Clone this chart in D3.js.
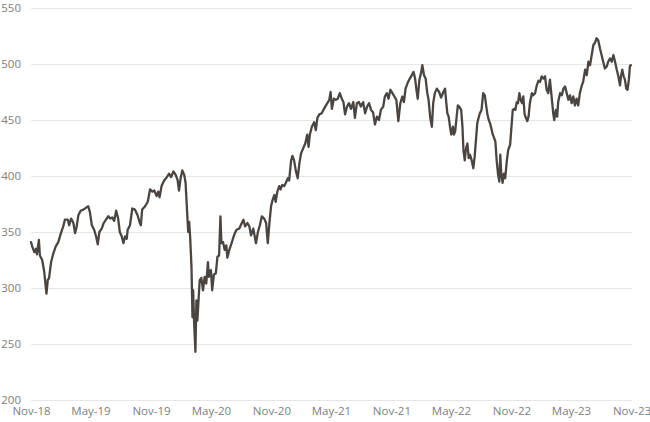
<!DOCTYPE html>
<html>
<head>
<meta charset="utf-8">
<script src="https://cdn.jsdelivr.net/npm/d3@7"></script>
<style>
  html, body { margin: 0; padding: 0; background: #ffffff; }
  svg { display: block; }
  .tick text { font-family: "Open Sans", sans-serif; fill: #808080; }
</style>
</head>
<body>
<svg id="chart" width="650" height="422"></svg>
<script>
// ---- data ----
const startDate = "2018-11-01";
const xTickLabels = ["Nov-18","May-19","Nov-19","May-20","Nov-20","May-21","Nov-21","May-22","Nov-22","May-23","Nov-23"];
const yTicks = [200, 250, 300, 350, 400, 450, 500, 550];

// days after the start date
const dayOffsets = [
  0,4,10,15,18,24,27,34,40,47,51,55,61,68,75,83,91,98,103,112,116,122,129,134,139,144,151,159,169,174,179,185,192,198,203,208,215,221,228,235,241,247,253,259,265,270,276,281,286,291,294,
  301,308,316,324,331,334,338,347,355,362,369,375,382,387,391,397,405,413,420,426,433,440,446,450,455,460,466,470,474,478,481,484,488,491,493,496,500,503,506,510,513,518,523,528,533,538,541,547,551,556,562,567,572,576,579,584,589,594,597,603,610,615,620,
  625,633,641,646,651,658,664,669,676,684,690,696,702,709,715,720,725,730,735,740,744,749,755,759,764,770,775,781,785,791,795,800,805,811,816,821,828,834,840,844,848,854,861,866,871,877,884,891,897,903,907,911,915,921,927,933,939,945,950,955,961,967,973,980,985,991,997,1003,1010,1016,1022,1028,1034,1040,1046,1052,1058,1064,1071,1076,1082,1087,1093,
  1099,1105,1111,1117,1123,1129,1134,1139,1145,1152,1158,1163,1168,1172,1176,1181,1186,1190,1195,1200,1205,1209,1214,1219,1223,1228,1234,1241,1247,1254,1259,1262,1266,1270,1274,1278,1283,1286,1290,1294,1298,1302,1308,1312,1315,1319,1323,1327,1331,1335,1340,1345,1349,1353,1357,1361,1365,1370,1375,1380,1384,1388,1392,1396,1401,1404,1407,1412,1416,1420,1424,1427,1430,1434,1438,1442,1447,1451,1457,1460,
  1465,1469,1473,1477,1481,1485,1489,1493,1497,1501,1505,1509,1513,1517,1523,1527,1533,1538,1543,1548,1553,1558,1563,1568,1573,1578,1583,1588,1591,1596,1600,1603,1609,1614,1619,1624,1629,1634,1639,1644,1649,1654,1659,1664,1669,1675,1679,1685,1690,1695,1700,1705,1710,1715,1720,1725,1730,1735,1740,1745,1751,1755,1761,1766,1771,1776,1781,1786,1791,1794,1798,1802,1806,1810,1814,1818,1821,1824
];

const indexValues = [
  341,337,332,335,330,343,329,325,315,295,307,309,323,331,337,341,349,355,361,361,356,362,358,349,355,365,369,370,372,373,368,356,352,346,339,350,353,358,361,364,362,363,360,369,362,350,346,340,346,344,352,
  356,371,370,365,358,356,370,373,377,388,386,387,382,386,381,391,396,399,402,399,404,401,396,387,398,405,401,394,372,350,359,345,319,274,298,269,243,289,271,292,307,309,298,310,304,323,310,316,298,312,313,328,329,364,340,341,334,338,327,334,340,345,349,
  352,353,358,361,355,358,355,347,353,340,350,356,364,362,358,340,358,373,379,383,377,386,391,388,392,391,394,398,396,414,418,414,405,398,411,420,425,429,437,426,437,444,448,441,452,455,456,460,463,466,468,475,460,469,468,469,474,469,466,455,462,465,460,466,452,465,466,462,466,456,462,465,459,457,446,453,450,459,462,471,474,469,477,
  474,471,468,449,465,471,466,478,483,487,490,493,487,477,469,486,492,499,490,487,474,468,452,444,465,474,478,475,470,475,478,468,456,453,444,437,444,437,440,452,463,462,459,444,423,414,425,429,416,419,414,407,417,432,447,452,456,459,474,472,463,455,450,447,441,437,435,431,414,402,395,419,402,394,402,398,414,423,428,440,
  459,460,459,466,465,474,468,465,471,455,452,449,453,465,474,472,474,481,485,484,489,487,489,477,474,486,471,456,450,459,453,466,474,472,478,480,474,468,472,465,471,463,469,463,474,481,484,495,490,502,499,508,517,519,523,521,514,508,502,496,498,502,505,502,508,502,495,489,481,489,495,489,486,478,477,486,498,499
];

// ---- chart ----
const W = 650, H = 422;
const margin = { left: 31, right: 18.5, top: 8, bottom: 22 };
const svg = d3.select("#chart");

const parseDay = d3.timeParse("%Y-%m-%d");
const parseTick = d3.timeParse("%b-%y");
const t0 = parseDay(startDate);
const data = dayOffsets.map((d, i) => ({ date: d3.timeDay.offset(t0, d), value: indexValues[i] }));
const tickDates = xTickLabels.map(parseTick);

const x = d3.scaleTime()
  .domain([tickDates[0], tickDates[tickDates.length - 1]])
  .range([margin.left, W - margin.right]);
const y = d3.scaleLinear()
  .domain([200, 550])
  .range([H - margin.bottom, margin.top]);

// y axis + gridlines
const yAxis = svg.append("g")
  .attr("transform", `translate(${margin.left},0)`)
  .call(d3.axisLeft(y)
    .tickValues(yTicks)
    .tickSize(-(W - margin.right - margin.left))
    .tickPadding(10)
    .tickFormat(d3.format("d")));
yAxis.select(".domain").remove();
yAxis.selectAll(".tick line").attr("stroke", "#e6e6e6").attr("stroke-width", 1);
yAxis.selectAll(".tick text").attr("font-size", 11.5).attr("fill", "#808080");

// x axis labels
const xAxis = svg.append("g")
  .attr("transform", `translate(0,${H - margin.bottom})`)
  .call(d3.axisBottom(x)
    .tickValues(tickDates)
    .tickSize(0)
    .tickPadding(7)
    .tickFormat((d, i) => xTickLabels[i]));
xAxis.select(".domain").remove();
xAxis.selectAll(".tick text").attr("font-size", 11.5).attr("fill", "#808080");

// line
const line = d3.line()
  .x(d => x(d.date))
  .y(d => y(d.value));

svg.append("path")
  .datum(data)
  .attr("fill", "none")
  .attr("stroke", "#4a4541")
  .attr("stroke-width", 2.3)
  .attr("stroke-linejoin", "round")
  .attr("stroke-linecap", "round")
  .attr("d", line);
</script>
</body>
</html>
